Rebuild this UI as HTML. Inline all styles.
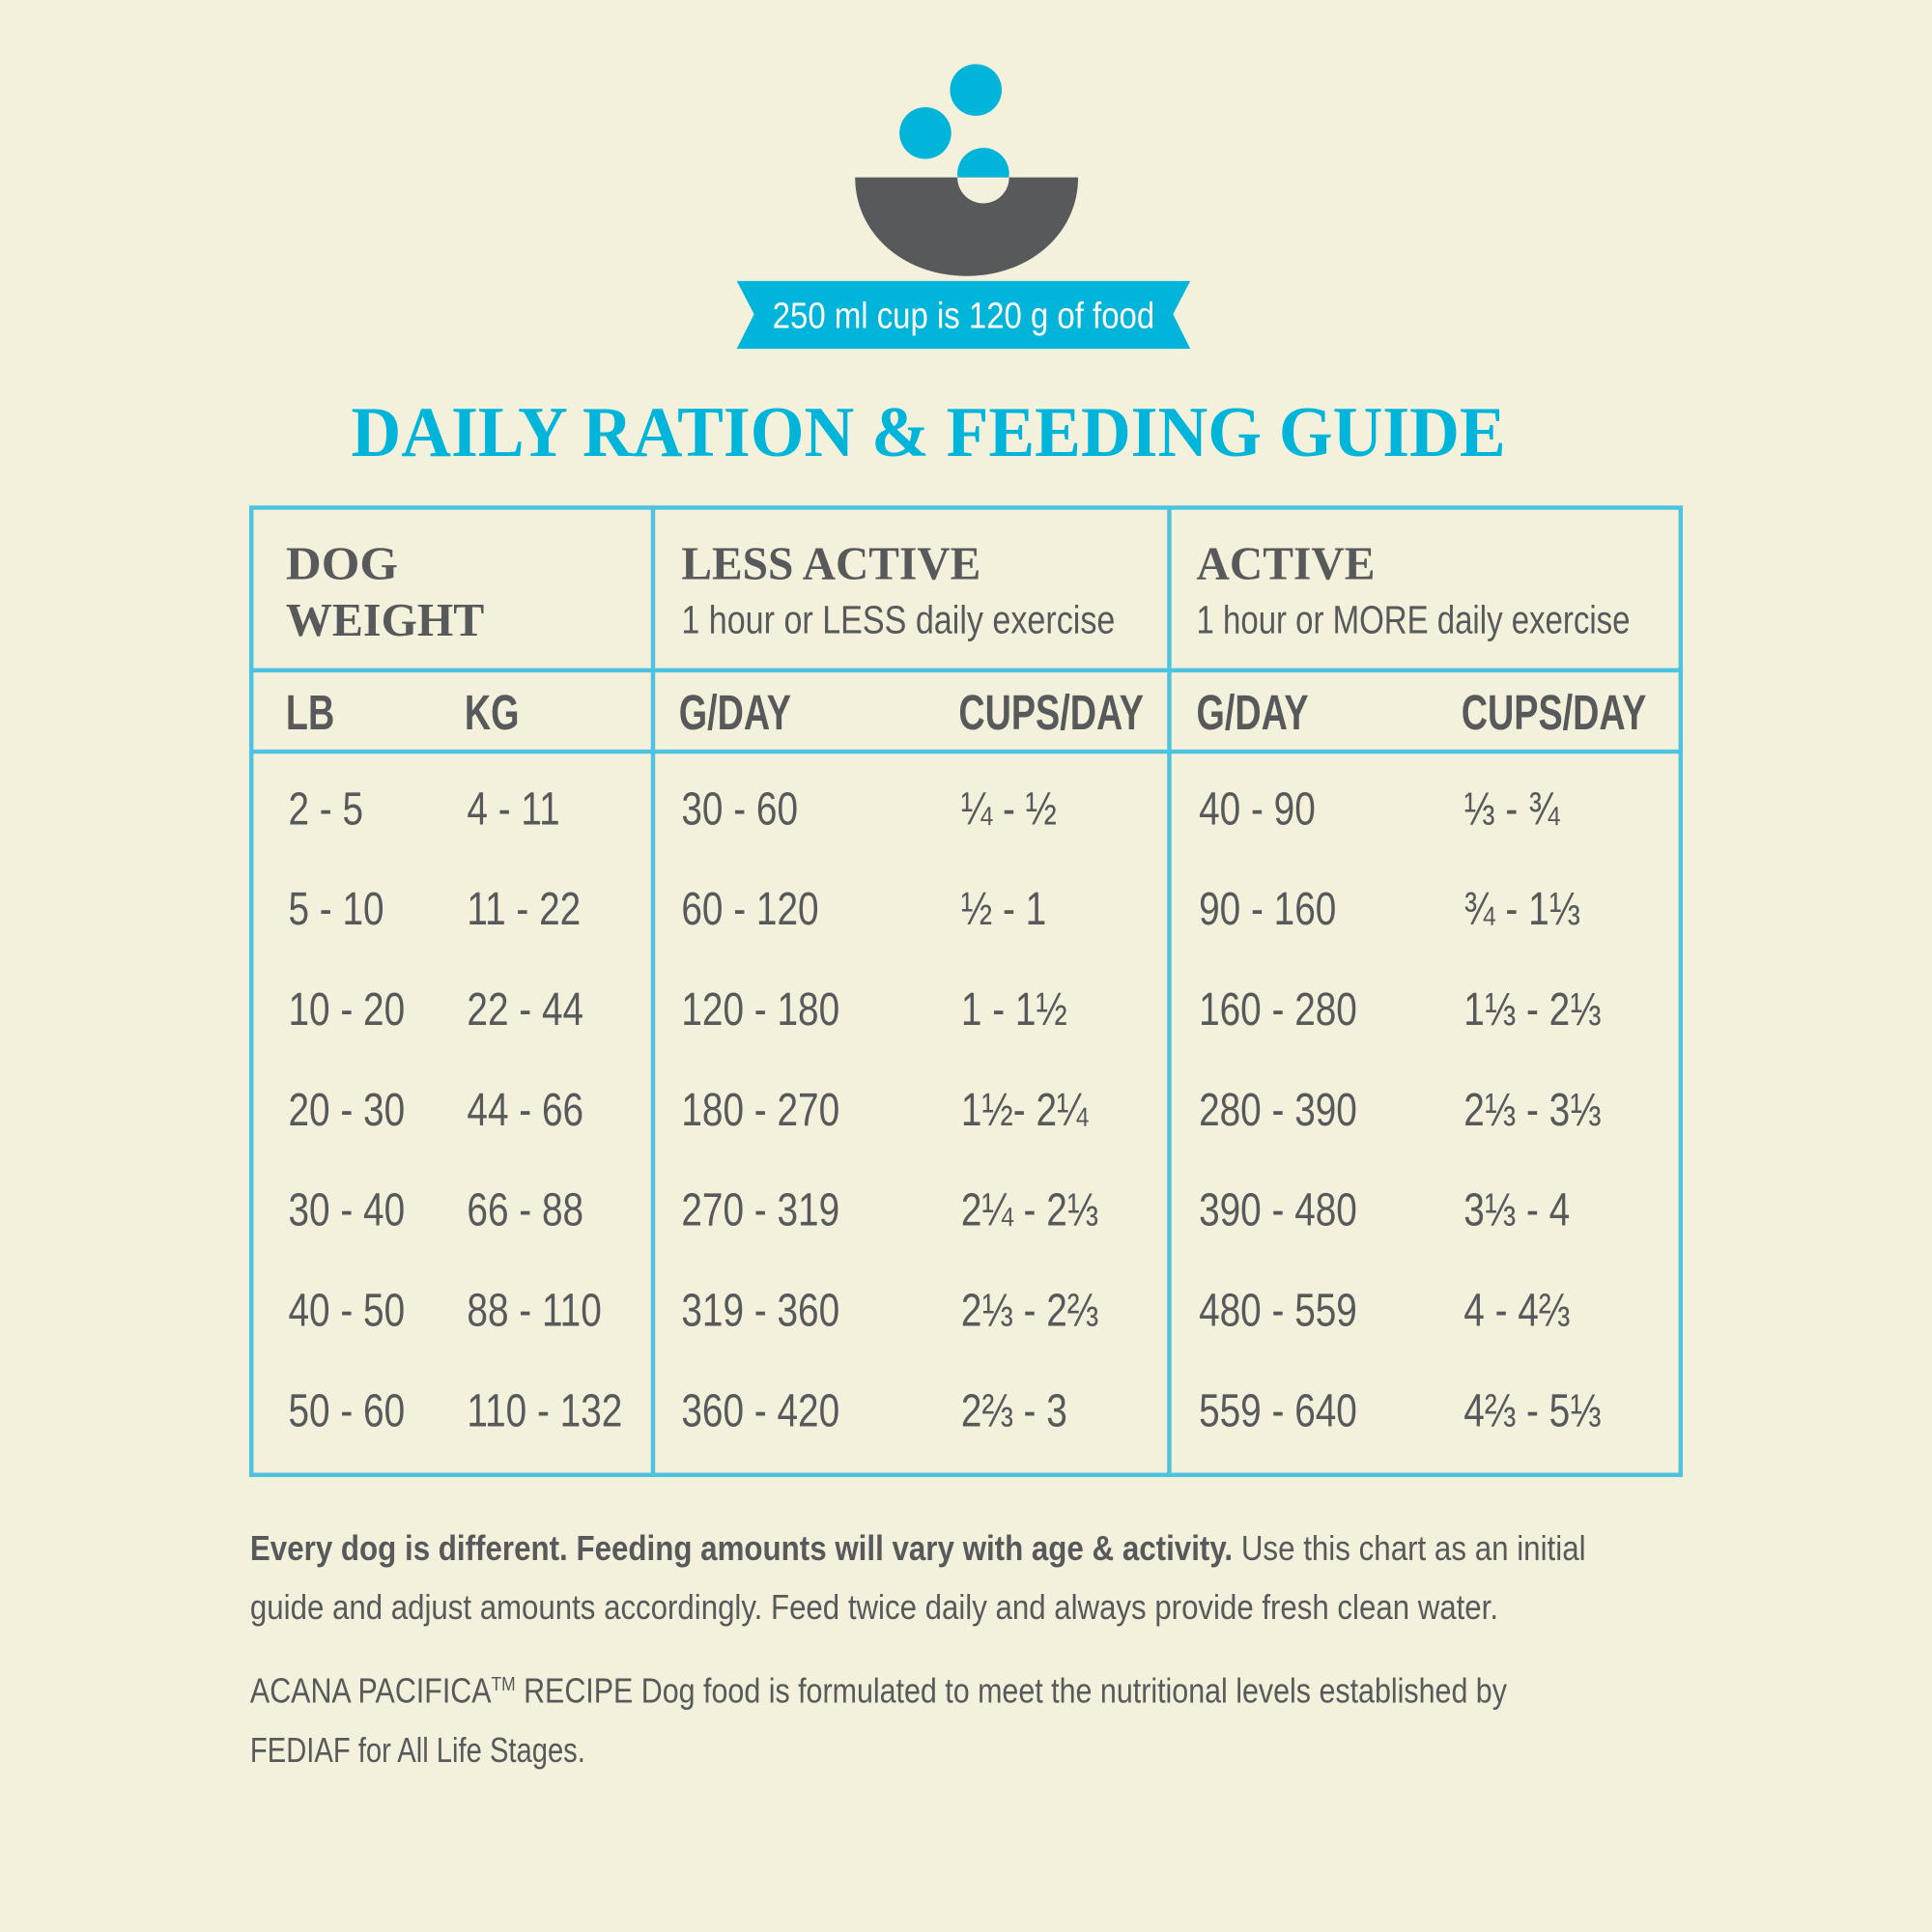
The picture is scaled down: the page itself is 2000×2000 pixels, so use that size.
<!DOCTYPE html>
<html><head><meta charset="utf-8">
<style>
html,body{margin:0;padding:0;background:#f3f0dc;}
svg{display:block;}
.d{font-family:"Liberation Sans",sans-serif;fill:#58595b;}
</style></head>
<body>
<svg width="2000" height="2000" viewBox="0 0 1568 1568" xmlns="http://www.w3.org/2000/svg">
<rect x="0" y="0" width="1568" height="1568" fill="#f3f0dc"/>
<g>
  <circle cx="792" cy="73" r="21" fill="#00b5d9"/>
  <circle cx="751" cy="108" r="21" fill="#00b5d9"/>
  <circle cx="798" cy="141" r="21" fill="#00b5d9"/>
  <path d="M694 144 L875 144 C875 190 835 224 784.5 224 C734 224 694 190 694 144 Z" fill="#58595b"/>
  <path d="M777 144 L819 144 A21 21 0 0 1 777 144 Z" fill="#f3f0dc"/>
</g>
<g>
  <polygon points="598,228 966,228 952,255 966,283 598,283 612,255" fill="#00b5d9"/>
  <text x="782" y="266" text-anchor="middle" font-family="Liberation Sans, sans-serif" font-size="30" fill="#fff" textLength="310" lengthAdjust="spacingAndGlyphs">250 ml cup is 120 g of food</text>
</g>
<text x="285" y="370" font-family="Liberation Serif, serif" font-weight="bold" font-size="58" fill="#00b5d9" textLength="937" lengthAdjust="spacingAndGlyphs">DAILY RATION &amp; FEEDING GUIDE</text>
<g fill="none" stroke="#4ec3e0" stroke-width="3.5">
  <rect x="204" y="412" width="1160" height="785"/>
  <line x1="530" y1="412" x2="530" y2="1197"/>
  <line x1="949" y1="412" x2="949" y2="1197"/>
  <line x1="204" y1="544" x2="1364" y2="544"/>
  <line x1="204" y1="610" x2="1364" y2="610"/>
</g>
<g font-family="Liberation Serif, serif" font-weight="bold" font-size="38" fill="#58595b">
  <text x="232" y="470" textLength="91" lengthAdjust="spacingAndGlyphs">DOG</text>
  <text x="232" y="516" textLength="161" lengthAdjust="spacingAndGlyphs">WEIGHT</text>
  <text x="553" y="470" textLength="243" lengthAdjust="spacingAndGlyphs">LESS ACTIVE</text>
  <text x="971" y="470" textLength="145" lengthAdjust="spacingAndGlyphs">ACTIVE</text>
</g>
<text class="d" x="553" y="514" font-size="32" textLength="352" lengthAdjust="spacingAndGlyphs">1 hour or LESS daily exercise</text>
<text class="d" x="971" y="514" font-size="32" textLength="352" lengthAdjust="spacingAndGlyphs">1 hour or MORE daily exercise</text>
<g id="sub"></g>
<g id="rows"></g>
<g font-family="Liberation Sans, sans-serif" font-size="28" fill="#58595b">
  <text x="203" y="1266" textLength="1084" lengthAdjust="spacingAndGlyphs"><tspan font-weight="bold">Every dog is different. Feeding amounts will vary with age &amp; activity.</tspan> Use this chart as an initial</text>
  <text x="203" y="1314" textLength="1013" lengthAdjust="spacingAndGlyphs">guide and adjust amounts accordingly. Feed twice daily and always provide fresh clean water.</text>
  <text x="203" y="1382" textLength="1020" lengthAdjust="spacingAndGlyphs">ACANA PACIFICA<tspan font-size="16" dy="-10">TM</tspan><tspan dy="10"> RECIPE Dog food is formulated to meet the nutritional levels established by</tspan></text>
  <text x="203" y="1430" textLength="272" lengthAdjust="spacingAndGlyphs">FEDIAF for All Life Stages.</text>
</g>
</svg>
<script>
const headers = ["LB","KG","G/DAY","CUPS/DAY","G/DAY","CUPS/DAY"];
const lb = ["2 - 5","5 - 10","10 - 20","20 - 30","30 - 40","40 - 50","50 - 60"];
const kg = ["4 - 11","11 - 22","22 - 44","44 - 66","66 - 88","88 - 110","110 - 132"];
const lessG = ["30 - 60","60 - 120","120 - 180","180 - 270","270 - 319","319 - 360","360 - 420"];
const lessCups = ["¼ - ½","½ - 1","1 - 1½","1½- 2¼","2¼ - 2⅓","2⅓ - 2⅔","2⅔ - 3"];
const actG = ["40 - 90","90 - 160","160 - 280","280 - 390","390 - 480","480 - 559","559 - 640"];
const actCups = ["⅓ - ¾","¾ - 1⅓","1⅓ - 2⅓","2⅓ - 3⅓","3⅓ - 4","4 - 4⅔","4⅔ - 5⅓"];
const NS="http://www.w3.org/2000/svg";
const hx=[232,377,551,778,971,1186];
const cx=[234,379,553,780,973,1188];
const sub=document.getElementById('sub');
headers.forEach((h,i)=>{
  const t=document.createElementNS(NS,'text');
  
  
  t.setAttribute('class','d');
  t.setAttribute('font-weight','bold');
  t.setAttribute('font-size','40');
  t.setAttribute('transform','translate('+hx[i]+',592) scale(0.74,1)');
  t.textContent=h; sub.appendChild(t);
});
const cols=[lb,kg,lessG,lessCups,actG,actCups];
const rows=document.getElementById('rows');
const rowY=i=>669+i*81.4;
lb.forEach((_,r)=>{
  const g=document.createElementNS(NS,'g');
  
  
  cols.forEach((c,i)=>{
    const t=document.createElementNS(NS,'text');
    
    
    t.setAttribute('class','d');
    t.setAttribute('font-size','38');
    t.setAttribute('transform','translate('+cx[i]+','+rowY(r)+') scale(0.8,1)');
    t.textContent=c[r]; g.appendChild(t);
  });
  rows.appendChild(g);
});
</script>
</body></html>
